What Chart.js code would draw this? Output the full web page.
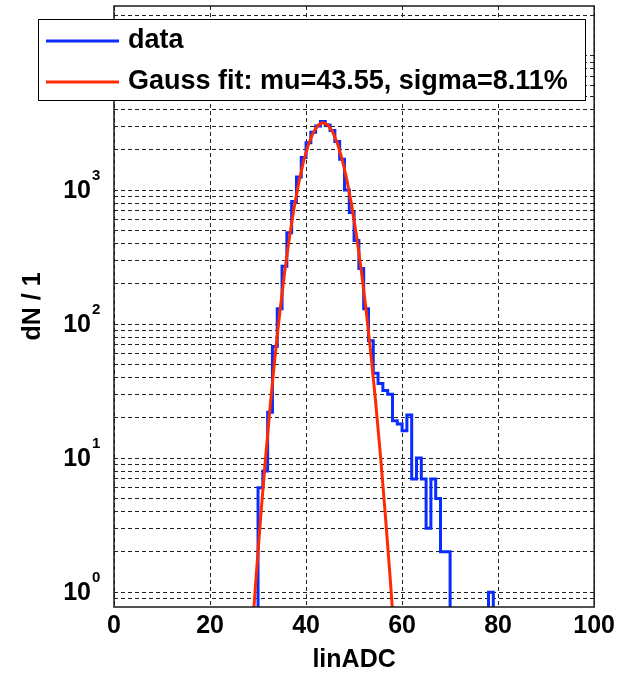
<!DOCTYPE html>
<html>
<head>
<meta charset="utf-8">
<script src="https://cdn.jsdelivr.net/npm/chart.js@4"></script>
<style>
  html, body { margin: 0; padding: 0; background: #fff; }
</style>
</head>
<body>
<canvas id="myChart" width="619" height="673"></canvas>
<script>
// histogram bins (left edges, last value closes the final bin)
const binEdges = [29, 30, 31, 32, 33, 34, 35, 36, 37, 38, 39, 40, 41, 42, 43, 44, 45, 46, 47, 48, 49,
    50, 51, 52, 53, 54, 55, 56, 57, 58, 59, 60, 61, 62, 63, 64, 65, 66, 67, 68, 69,
    70, 71, 72, 73, 74, 75, 76, 77, 78, 79, 80]
const dataCounts = [0, 6, 8, 22, 68, 130, 270, 480, 820, 1250, 1750, 2250, 2700, 3000, 3250, 3050, 2780, 2300, 1700, 1000,
    680, 420, 260, 130, 75, 43, 36, 32, 30, 19, 18, 16, 21, 7, 10, 7, 3, 7, 5, 2,
    2, 0, 0, 0, 0, 0, 0, 0, 0, 1, 0]

// gauss fit, read at bin centres
const fitX = [28.5, 29.5, 30.5, 31.5, 32.5, 33.5, 34.5, 35.5, 36.5, 37.5, 38.5, 39.5, 40.5, 41.5, 42.5, 43.5,
    44.5, 45.5, 46.5, 47.5, 48.5, 49.5, 50.5, 51.5, 52.5, 53.5, 54.5, 55.5, 56.5, 57.5, 58.5]
const fitY = [0.36, 1.17, 3.46, 9.4, 23.8, 55.4, 119, 237, 434, 733, 1144, 1646, 2190, 2688, 3043, 3180,
    3067, 2731, 2243, 1703, 1191, 769, 459, 252, 128, 60, 26.1, 10.4, 3.8, 1.3, 0.41]

const xTickValues = [0, 20, 40, 60, 80, 100]
const yTickExponents = [0, 1, 2, 3]
const legendLabels = ["data", "Gauss fit: mu=43.55, sigma=8.11%"]

const FONT = '"Liberation Sans", Arial, sans-serif'
const BLUE = '#0a2cff'
const RED = '#ff2a00'

// log axis: empty bins go to "minus infinity" like in the original plot
const histPoints = binEdges.map((edge, i) => {
    const c = i < dataCounts.length ? dataCounts[i] : 0
    return { x: edge, y: c > 0 ? c : 1e-4 }
})
const fitPoints = fitX.map((x, i) => ({ x: x, y: fitY[i] }))

// every 1..9 x 10^n line of the log grid
const yGridValues = []
for (let n = -1; n <= 4; n++) {
    for (let m = 1; m <= 9; m++) {
        yGridValues.push(m * Math.pow(10, n))
    }
}

const Y_MIN = 0.775
const Y_MAX = 23600

const framePlugin = {
    id: 'framePlugin',
    afterDatasetsDraw(chart) {
        const ctx = chart.ctx
        const a = chart.chartArea
        const y = chart.scales.y
        ctx.save()
        ctx.strokeStyle = '#1a1a1a'
        ctx.lineWidth = 1.5
        ctx.strokeRect(a.left, a.top, a.right - a.left, a.bottom - a.top)

        ctx.fillStyle = '#000'
        yTickExponents.forEach(n => {
            const py = y.getPixelForValue(Math.pow(10, n))
            ctx.font = 'bold 25px ' + FONT
            ctx.textAlign = 'right'
            ctx.textBaseline = 'middle'
            ctx.fillText('10', a.left - 23, py + 1)
            ctx.font = 'bold 15px ' + FONT
            ctx.textAlign = 'left'
            ctx.fillText(String(n), a.left - 22, py - 14)
        })
        ctx.restore()
    },
    afterDraw(chart) {
        const ctx = chart.ctx
        ctx.save()
        ctx.fillStyle = '#fff'
        ctx.fillRect(38.5, 19.5, 547, 81)
        ctx.strokeStyle = '#000'
        ctx.lineWidth = 1
        ctx.strokeRect(38.5, 19.5, 547, 81)

        const colors = [BLUE, RED]
        const rows = [41, 82]
        legendLabels.forEach((label, i) => {
            ctx.strokeStyle = colors[i]
            ctx.lineWidth = 3
            ctx.beginPath()
            ctx.moveTo(46, rows[i])
            ctx.lineTo(119, rows[i])
            ctx.stroke()
            ctx.fillStyle = '#000'
            ctx.font = 'bold 27px ' + FONT
            ctx.textAlign = 'left'
            ctx.textBaseline = 'middle'
            ctx.fillText(label, 128, rows[i])
        })
        ctx.restore()
    }
}

const config = {
    type: 'line',
    data: {
        datasets: [
            {
                label: legendLabels[0],
                data: histPoints,
                borderColor: BLUE,
                borderWidth: 3,
                pointRadius: 0,
                stepped: 'before',
                fill: false,
                clip: 0,
                order: 2
            },
            {
                label: legendLabels[1],
                data: fitPoints,
                borderColor: RED,
                borderWidth: 3,
                pointRadius: 0,
                tension: 0,
                fill: false,
                clip: 0,
                order: 1
            }
        ]
    },
    options: {
        responsive: false,
        animation: false,
        devicePixelRatio: 1,
        layout: { padding: { top: 6, right: 22, left: 0, bottom: 0 } },
        plugins: {
            legend: { display: false },
            tooltip: { enabled: false }
        },
        scales: {
            x: {
                type: 'linear',
                min: 0,
                max: 100,
                afterBuildTicks: (scale) => {
                    scale.ticks = xTickValues.map(v => ({ value: v }))
                },
                afterFit: (scale) => { scale.height = 66 },
                ticks: {
                    color: '#000',
                    padding: 4,
                    font: { family: FONT, size: 25, weight: 'bold' },
                    maxRotation: 0
                },
                grid: { color: '#222', lineWidth: 1, drawTicks: false },
                border: { display: false, dash: [4, 3] },
                title: {
                    display: true,
                    text: 'linADC',
                    color: '#000',
                    font: { family: FONT, size: 25, weight: 'bold', lineHeight: 1.0 },
                    padding: { top: 0, bottom: 0 }
                }
            },
            y: {
                type: 'logarithmic',
                min: Y_MIN,
                max: Y_MAX,
                afterBuildTicks: (scale) => {
                    // the 0.8 line sits on the bottom of the box, leave it out
                    scale.ticks = yGridValues
                        .filter(v => v >= 0.85 && v <= Y_MAX)
                        .map(v => ({ value: v }))
                },
                afterFit: (scale) => { scale.width = 114 },
                ticks: { display: false },
                grid: { color: '#222', lineWidth: 1, drawTicks: false },
                border: { display: false, dash: [4, 3] },
                title: {
                    display: true,
                    text: 'dN / 1',
                    color: '#000',
                    font: { family: FONT, size: 25, weight: 'bold', lineHeight: 1.1 },
                    padding: { top: 19, bottom: 0 }
                }
            }
        }
    },
    plugins: [framePlugin]
}

new Chart(document.querySelector('#myChart'), config)
</script>
</body>
</html>
